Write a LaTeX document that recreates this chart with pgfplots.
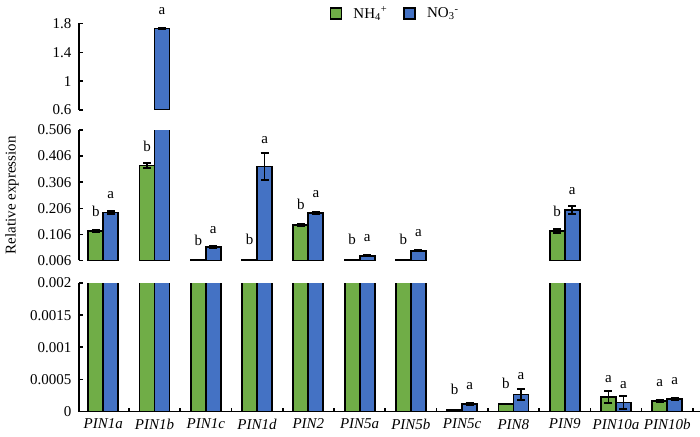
\documentclass[border=0pt]{standalone}
\usepackage{fontspec}
\setmainfont{Liberation Serif}
\usepackage{pgfplots}
\pgfplotsset{compat=1.18}
\usepackage{pgfplotstable}

\definecolor{nhgreen}{RGB}{112,173,71}
\definecolor{noblue}{RGB}{68,114,196}
\newcommand\ff{\fontsize{15}{18}\selectfont}

% relative expression, mean and error for NH4+ and NO3-
\pgfplotstableread{
i  nh        nherr     no        noerr
0  0.120     0.004     0.190     0.004
1  0.370     0.008     1.730     0.012
2  0.007     0         0.058     0.004
3  0.007     0         0.366     0.050
4  0.142     0.003     0.189     0.003
5  0.007     0         0.024     0.002
6  0.007     0         0.043     0.002
7  0.00002   0.000003  0.00012   0.00002
8  0.000115  0.000005  0.000265  0.00009
9  0.119     0.006     0.200     0.015
10 0.000225  0.0001    0.00014   0.0001
11 0.000165  0.00002   0.000195  0.00002
}\expr

% significance letters (y = foot of the letter)
\pgfplotstableread{
i y l
0 0.172 b
1 0.424 b
2 0.063 b
3 0.066 b
4 0.200 b
5 0.066 b
6 0.066 b
9 0.174 b
}\midnh
\pgfplotstableread{
i y l
0 0.243 a
2 0.108 a
3 0.453 a
4 0.245 a
5 0.078 a
6 0.0975 a
9 0.258 a
}\midno
\pgfplotstableread{
i y l
7 0.000257 b
8 0.00035 b
10 0.000448 a
11 0.000386 a
}\lownh
\pgfplotstableread{
i y l
7 0.000335 a
8 0.00049 a
10 0.00035 a
11 0.000412 a
}\lowno
\pgfplotstableread{
i y l
1 1.918 a
}\topno

\pgfplotsset{
  panel/.style={
    scale only axis, width=621pt, xmin=-0.474, xmax=11.64,
    axis y line*=left, tick align=inside,
    major tick length=4pt, minor tick length=4pt,
    axis line style={line width=1.8pt, -},
    tick style={black, line width=1.6pt},
    ticklabel style={font=\ff},
    yticklabel style={xshift=-4pt},
    /pgf/number format/assume math mode=true,
    scaled y ticks=false,
  },
  nhbar/.style={ybar, bar width=15pt, bar shift=-7.5pt, fill=nhgreen, draw=black, line width=1.8pt,
    legend image code/.code={\draw[fill=nhgreen, draw=black, line width=1.8pt] (0pt,-5.5pt) rectangle (11pt,5.5pt);}},
  nobar/.style={ybar, bar width=15pt, bar shift=7.5pt, fill=noblue, draw=black, line width=1.8pt,
    legend image code/.code={\draw[fill=noblue, draw=black, line width=1.8pt] (0pt,-5.5pt) rectangle (11pt,5.5pt);}},
  errs/.style={/pgfplots/error bars/y dir=both, /pgfplots/error bars/y explicit,
    /pgfplots/error bars/error bar style={black, line width=1.8pt, xshift=#1},
    /pgfplots/error bars/error mark options={black, line width=2pt, mark size=4pt, rotate=90}},
  lbl/.style={only marks, mark=text, text mark={},
    nodes near coords, point meta=explicit symbolic,
    nodes near coords style={anchor=south, inner sep=0pt, font=\ff, black, xshift=#1}},
}

\begin{document}
\begin{tikzpicture}
\useasboundingbox (0,0) rectangle (700pt,436pt);

% lower panel
\begin{axis}[panel, at={(79pt,24.5pt)}, anchor=south west, height=128.5pt,
  ymin=0, ymax=0.002, axis x line*=bottom,
  ytick={0,0.0005,0.001,0.0015,0.002},
  yticklabels={0,0.0005,0.001,0.0015,0.002},
  xtick={0,...,11},
  xticklabels={\textit{PIN1a},\textit{PIN1b},\textit{PIN1c},\textit{PIN1d},\textit{PIN2},\textit{PIN5a},\textit{PIN5b},\textit{PIN5c},\textit{PIN8},\textit{PIN9},\textit{PIN10a},\textit{PIN10b}},
  major x tick style={draw=none},
  minor xtick={-0.5,0.5,...,11.5},
  xticklabel style={yshift=-4pt},
  y filter/.expression={min(y,0.1)}]
\addplot[nhbar, errs=-7.5pt] table[x=i, y=nh, y error=nherr]{\expr};
\addplot[nobar, errs=7.5pt] table[x=i, y=no, y error=noerr]{\expr};
\addplot[lbl=-7.5pt] table[x=i, y=y, meta=l]{\lownh};
\addplot[lbl=7.5pt] table[x=i, y=y, meta=l]{\lowno};
\end{axis}

% middle panel (carries the legend)
\begin{axis}[panel, at={(79pt,175.5pt)}, anchor=south west, height=130.5pt,
  ymin=0.006, ymax=0.506, axis x line=none,
  ytick={0.006,0.106,0.206,0.306,0.406,0.506},
  yticklabels={0.006,0.106,0.206,0.306,0.406,0.506},
  ylabel={Relative expression},
  every axis y label/.style={at={(axis description cs:-0.108,0.5)}, anchor=center, rotate=90, font=\ff},
  y filter/.expression={y<0.006 ? nan : y},
  legend style={at={(axis description cs:0.509,1.894)}, anchor=center,
    draw=none, fill=none, font=\ff, legend columns=2,
    /tikz/every odd column/.append style={column sep=9pt},
    /tikz/every even column/.append style={column sep=14pt}}]
\addplot[nhbar, errs=-7.5pt] table[x=i, y=nh, y error=nherr]{\expr};
\addplot[nobar, errs=7.5pt] table[x=i, y=no, y error=noerr]{\expr};
\addplot[lbl=-7.5pt] table[x=i, y=y, meta=l]{\midnh};
\addplot[lbl=7.5pt] table[x=i, y=y, meta=l]{\midno};
\legend{NH\textsubscript{4}\textsuperscript{+}, NO\textsubscript{3}\textsuperscript{-}}
\end{axis}

% upper panel
\begin{axis}[panel, at={(79pt,326pt)}, anchor=south west, height=86.5pt,
  ymin=0.6, ymax=1.8, axis x line=none,
  ytick={0.6,1,1.4,1.8}, yticklabels={0.6,1,1.4,1.8},
  y filter/.expression={y<0.6 ? nan : y}]
\addplot[nhbar, errs=-7.5pt] table[x=i, y=nh, y error=nherr]{\expr};
\addplot[nobar, errs=7.5pt] table[x=i, y=no, y error=noerr]{\expr};
\end{axis}
% letter above the upper panel, same frame, unclipped
\begin{axis}[panel, at={(79pt,326pt)}, anchor=south west, height=86.5pt,
  ymin=0.6, ymax=1.8, hide axis, clip=false]
\addplot[lbl=7.5pt] table[x=i, y=y, meta=l]{\topno};
\end{axis}
\end{tikzpicture}
\end{document}
